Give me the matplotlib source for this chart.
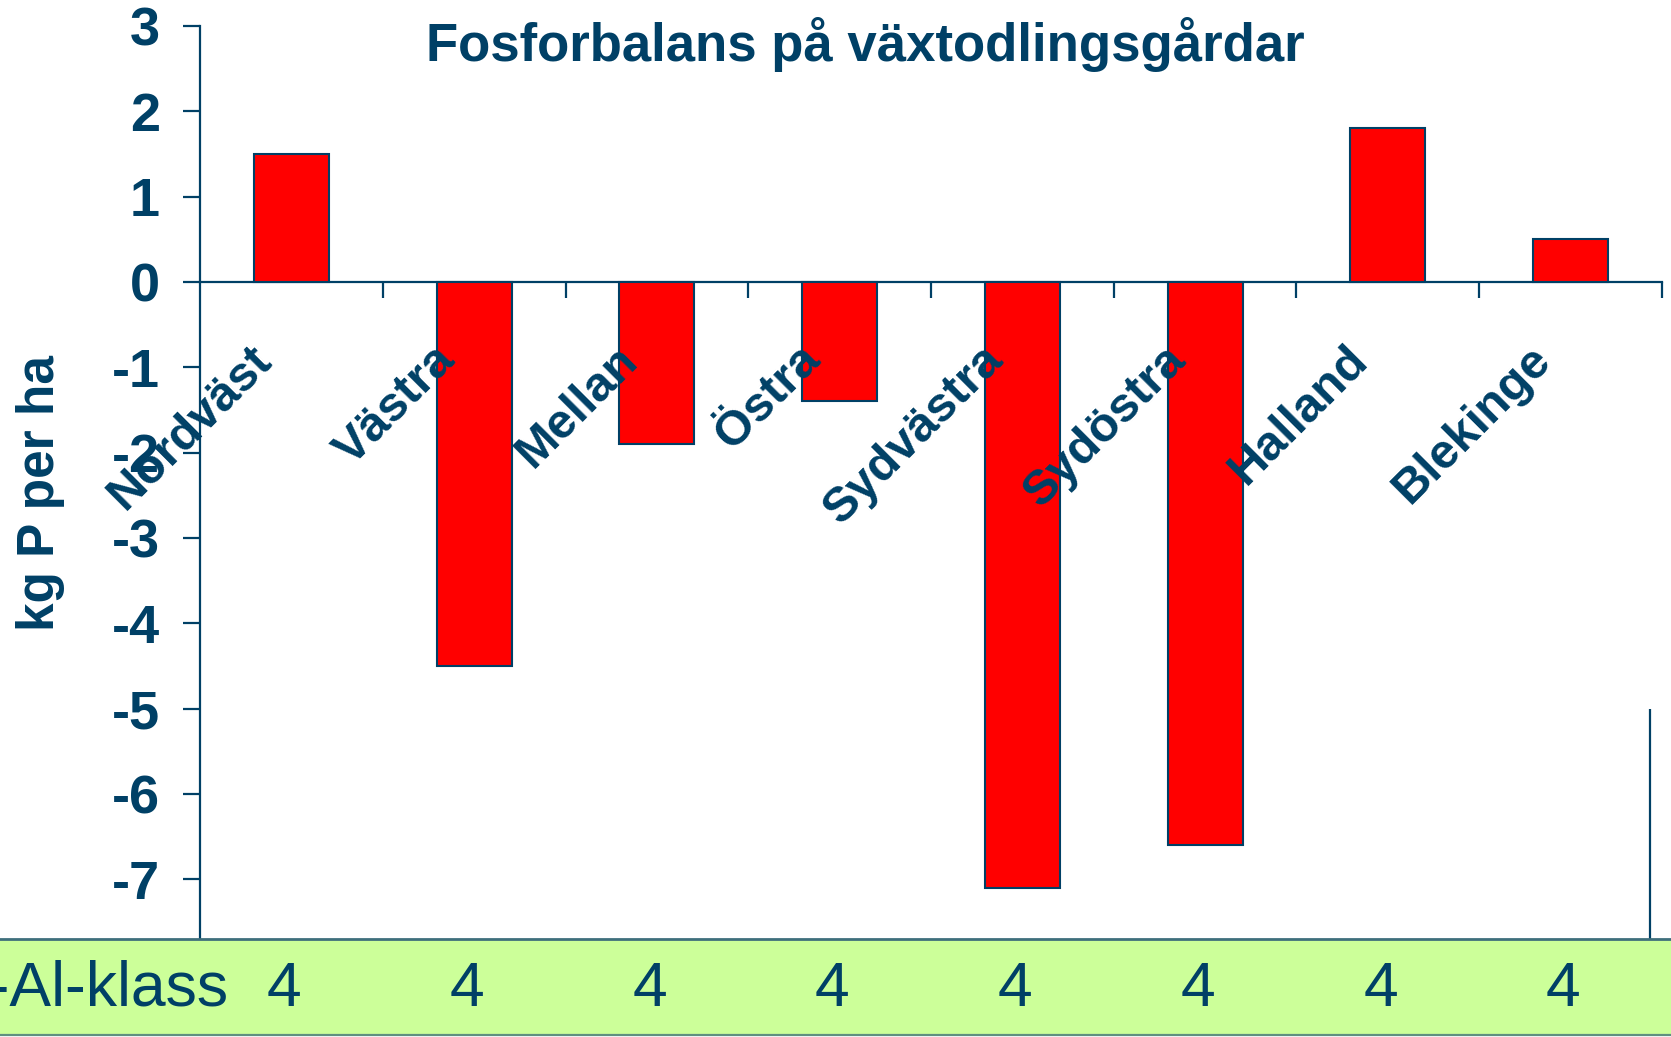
import matplotlib.pyplot as plt
import matplotlib.transforms as mtransforms

plt.rcParams['font.family'] = ['Liberation Sans', 'DejaVu Sans']

# data
regions = ['Nordväst', 'Västra', 'Mellan', 'Östra', 'Sydvästra', 'Sydöstra', 'Halland', 'Blekinge']
balance = [1.5, -4.5, -1.9, -1.4, -7.1, -6.6, 1.8, 0.5]
p_al_klass = ['4', '4', '4', '4', '4', '4', '4', '4']
yticks = [3, 2, 1, 0, -1, -2, -3, -4, -5, -6, -7]

navy = '#004066'
band_green = '#ccff99'

fig = plt.figure(figsize=(16.71, 10.37), dpi=100)
ax = fig.add_axes([0.1197, 0.0945, 0.8749, 0.8804])

x = list(range(len(regions)))
ax.bar(x, balance, width=0.41, color='red', edgecolor=navy, linewidth=1.5, zorder=3)

ax.set_xlim(-0.5, 7.5)
ax.set_ylim(-7.7, 3)

# spines: left axis and x axis through zero
ax.spines['top'].set_visible(False)
ax.spines['right'].set_visible(False)
ax.spines['bottom'].set_position(('data', 0))
for s in ('left', 'bottom'):
    ax.spines[s].set_color(navy)
    ax.spines[s].set_linewidth(1.6)

ax.set_yticks(yticks)
ax.set_yticklabels([str(v) for v in yticks], fontsize=39, fontweight='bold', color=navy)
ax.tick_params(axis='y', direction='out', length=12, width=1.6, color=navy, pad=17)

ax.set_xticks([i + 0.5 for i in x])
ax.set_xticklabels([])
ax.tick_params(axis='x', direction='out', length=11.5, width=1.6, color=navy)

# rotated category labels inside the plot
for i, name in enumerate(regions):
    ax.text(i - 0.145, -0.83, name, rotation=45, rotation_mode='anchor',
            ha='right', va='center', fontsize=35, fontweight='bold', color=navy, zorder=4)

# stray vertical line at the right
ax.vlines(7.434, -7.7, -5, color=navy, linewidth=1.6)

fig.text(0.518, 0.957, 'Fosforbalans på växtodlingsgårdar', ha='center', va='center',
         fontsize=38, fontweight='bold', color=navy)
fig.text(0.024, 0.525, 'kg P per ha', rotation=90, ha='center', va='center',
         fontsize=37, fontweight='bold', color=navy)

# green P-Al-klass band
band = fig.add_axes([0, 0.002, 1, 0.0925])
band.set_facecolor(band_green)
band.set_xticks([])
band.set_yticks([])
for s in ('left', 'right'):
    band.spines[s].set_visible(False)
band.spines['top'].set_color('#3f6f7c')
band.spines['top'].set_linewidth(2)
band.spines['bottom'].set_color('#5f9080')
band.spines['bottom'].set_linewidth(1.6)

trans = mtransforms.blended_transform_factory(ax.transData, fig.transFigure)
for i, k in enumerate(p_al_klass):
    fig.text(i - 0.04, 0.046, k, transform=trans, ha='center', va='center',
             fontsize=45, color=navy)
fig.text(0.137, 0.046, 'P-Al-klass', ha='right', va='center', fontsize=45, color=navy)

fig.savefig('out.png', dpi=100)
